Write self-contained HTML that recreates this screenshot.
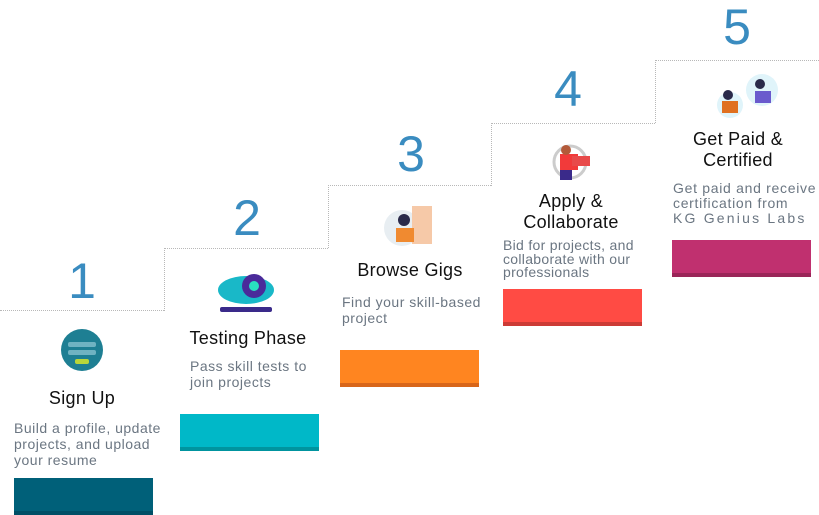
<!DOCTYPE html>
<html><head><meta charset="utf-8"><style>
body{margin:0;width:819px;height:515px;position:relative;overflow:hidden;background:#fff;font-family:"Liberation Sans",sans-serif}
.n{position:absolute;color:#3a8cc0;font-size:50px;line-height:50px;width:60px;text-align:center}
.t{position:absolute;color:#111;font-size:18px;line-height:21px;text-align:center;width:160px;letter-spacing:0.3px}
.d{position:absolute;color:#6b7682;font-size:14px;line-height:16px;letter-spacing:0.5px;white-space:nowrap}
.b{position:absolute;width:139px;height:37px;box-sizing:border-box}
.l{position:absolute;border:0 dotted #b8b8b8}
</style></head><body>
<div class="l" style="left:0;top:310px;width:164px;border-top-width:1px"></div>
<div class="l" style="left:164px;top:248px;height:63px;border-left-width:1px"></div>
<div class="l" style="left:164px;top:248px;width:164px;border-top-width:1px"></div>
<div class="l" style="left:328px;top:185px;height:63px;border-left-width:1px"></div>
<div class="l" style="left:328px;top:185px;width:163px;border-top-width:1px"></div>
<div class="l" style="left:491px;top:123px;height:63px;border-left-width:1px"></div>
<div class="l" style="left:491px;top:123px;width:164px;border-top-width:1px"></div>
<div class="l" style="left:655px;top:60px;height:63px;border-left-width:1px"></div>
<div class="l" style="left:655px;top:60px;width:164px;border-top-width:1px"></div>

<div class="n" style="left:52px;top:256px">1</div>
<div class="n" style="left:217px;top:193px">2</div>
<div class="n" style="left:381px;top:129px">3</div>
<div class="n" style="left:538px;top:64px">4</div>
<div class="n" style="left:707px;top:2px">5</div>

<svg style="position:absolute;left:60px;top:328px" width="44" height="44"><circle cx="22" cy="22" r="21" fill="#1e7f93"/><rect x="8" y="14" width="28" height="5" rx="2" fill="#6fb3c2"/><rect x="8" y="22" width="28" height="5" rx="2" fill="#6fb3c2"/><rect x="15" y="31" width="14" height="5" rx="2" fill="#b9d63a"/></svg>
<svg style="position:absolute;left:216px;top:270px" width="60" height="45"><ellipse cx="30" cy="20" rx="28" ry="14" fill="#19b8c8"/><circle cx="38" cy="16" r="12" fill="#4a2a9a"/><circle cx="38" cy="16" r="5" fill="#29e0c0"/><rect x="4" y="37" width="52" height="5" rx="2" fill="#3a2a8a"/></svg>
<svg style="position:absolute;left:382px;top:200px" width="55" height="50"><circle cx="20" cy="28" r="18" fill="#e8eef2"/><rect x="30" y="6" width="20" height="38" fill="#f6c9a8"/><circle cx="22" cy="20" r="6" fill="#2a2a4a"/><rect x="14" y="28" width="18" height="14" fill="#f08a30"/></svg>
<svg style="position:absolute;left:548px;top:140px" width="45" height="45"><circle cx="22" cy="22" r="16" fill="none" stroke="#ccc" stroke-width="3"/><rect x="12" y="14" width="18" height="16" fill="#f23a3a"/><rect x="24" y="16" width="18" height="10" fill="#e84a4a"/><circle cx="18" cy="10" r="5" fill="#b35a3a"/><rect x="12" y="30" width="12" height="10" fill="#3a2a8a"/></svg>
<svg style="position:absolute;left:710px;top:73px" width="70" height="45"><circle cx="52" cy="17" r="16" fill="#e0f4fa"/><circle cx="20" cy="32" r="13" fill="#e0f4fa"/><rect x="45" y="18" width="16" height="12" fill="#6a5acd"/><circle cx="50" cy="11" r="5" fill="#2a2a4a"/><rect x="12" y="28" width="16" height="12" fill="#e07020"/><circle cx="18" cy="22" r="5" fill="#2a2a4a"/></svg>

<div class="t" style="left:2px;top:388px">Sign Up</div>
<div class="t" style="left:168px;top:328px">Testing Phase</div>
<div class="t" style="left:330px;top:260px">Browse Gigs</div>
<div class="t" style="left:491px;top:191px">Apply &amp;<br>Collaborate</div>
<div class="t" style="left:658px;top:129px">Get Paid &amp;<br>Certified</div>

<div class="d" style="left:14px;top:420px">Build a profile, update<br>projects, and upload<br>your resume</div>
<div class="d" style="left:190px;top:358px">Pass skill tests to<br>join projects</div>
<div class="d" style="left:342px;top:294px">Find your skill-based<br>project</div>
<div class="d" style="left:503px;top:239px;line-height:13.5px;letter-spacing:0.3px">Bid for projects, and<br>collaborate with our<br>professionals</div>
<div class="d" style="left:673px;top:181px;line-height:15px;letter-spacing:0.7px">Get paid and receive<br>certification from<br><span style="letter-spacing:2.2px">KG Genius Labs</span></div>

<div class="b" style="left:14px;top:478px;background:#006079;border-bottom:4px solid #004f66"></div>
<div class="b" style="left:180px;top:414px;background:#00b8c8;border-bottom:4px solid #00949f"></div>
<div class="b" style="left:340px;top:350px;background:#ff8520;border-bottom:4px solid #d8661a"></div>
<div class="b" style="left:503px;top:289px;background:#ff4b44;border-bottom:4px solid #cc3b36"></div>
<div class="b" style="left:672px;top:240px;background:#c0306f;border-bottom:4px solid #9a2558"></div>
</body></html>
